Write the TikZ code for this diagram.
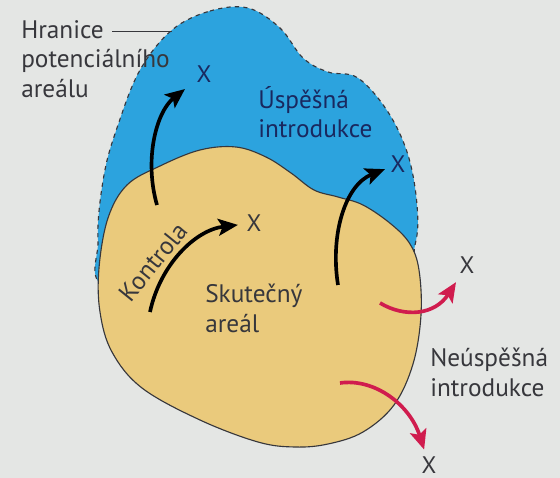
\documentclass[tikz,border=0pt]{standalone}
\usepackage{fontspec}
\setmainfont{PT Sans}
\usetikzlibrary{arrows.meta}

\definecolor{paper}{RGB}{228,230,228}
\definecolor{potblue}{RGB}{44,163,222}
\definecolor{realtan}{RGB}{234,202,124}
\definecolor{failred}{RGB}{208,28,78}
\definecolor{inkgray}{RGB}{55,55,60}
\definecolor{inkblue}{RGB}{25,40,95}

\begin{document}
\begin{tikzpicture}[
  x=0.025cm, y=-0.025cm,
  lbl/.style={font=\fontsize{18}{21}\selectfont, text=inkgray, align=left, inner sep=0pt},
  xmark/.style={font=\fontsize{17}{21}\selectfont, text=inkgray, inner sep=1pt},
  arr/.style={-{Stealth[length=14pt,width=12pt,inset=3pt]}, line width=2.6pt},
  redarr/.style={arr, failred}
]

% Background
\fill[paper] (0,0) rectangle (560,478);
\useasboundingbox (0,0) rectangle (560,478);

% Potential range
\draw[fill=potblue, draw=inkgray, dashed, line width=0.8pt]
  plot[smooth cycle, tension=0.6] coordinates {
    (172,30) (210,11) (248,8) (280,28) (303,58) (328,72) (358,78)
    (388,112) (408,155) (417,205) (415,245) (395,290) (250,300)
    (110,290) (98,240) (104,175) (118,125) (140,70)};

% Actual range
\draw[fill=realtan, draw=inkgray, line width=0.8pt]
  plot[smooth cycle, tension=0.6] coordinates {
    (99,268) (108,218) (127,185) (160,166) (200,150) (236,147)
    (266,157) (291,173) (314,190) (338,197) (363,205) (391,224)
    (410,244) (419,270) (421,315) (413,364) (394,405) (363,432)
    (328,444) (295,447) (258,442) (200,420) (142,388) (112,352)
    (100,312)};

% Labels
\node[lbl, anchor=north west] (hranice) at (21,20) {Hranice\\potenciálního\\areálu};
\node[lbl, text=inkblue, anchor=north west] (uspech) at (258,86) {Úspěšná\\introdukce};
\node[lbl, anchor=north west] (skutecny) at (205,284) {Skutečný\\areál};
\node[lbl, anchor=north west] (neuspech) at (430,348) {Neúspěšná\\introdukce};
\node[lbl, rotate=51] (kontrola) at (153,262) {Kontrola};

\coordinate (leadA) at (112,31);
\coordinate (leadB) at (172,31);
\draw[inkgray, line width=0.7pt] (leadA) -- (leadB);

% Targets
\node[xmark, text=inkblue] (x1) at (204,74) {X};
\node[xmark] (x2) at (254,223) {X};
\node[xmark, text=inkblue] (x3) at (398,164) {X};
\node[xmark] (xr1) at (467,265) {X};
\node[xmark] (xr2) at (429,465) {X};

% Start points
\coordinate (t1) at (157,205);
\coordinate (t2) at (150,312);
\coordinate (t3) at (338,285);
\coordinate (tr1) at (380,303);
\coordinate (tr2) at (340,383);

% Successful spread
\draw[arr, shorten >=9pt] (t1) .. controls (144,160) and (156,112) .. (x1);
\draw[arr, shorten >=5pt] (t2) .. controls (160,265) and (195,230) .. (x2);
\draw[arr, shorten >=3pt] (t3) .. controls (330,235) and (345,185) .. (x3);

% Failed spread
\draw[redarr, shorten >=6pt] (tr1) .. controls (405,318) and (435,315) .. (xr1);
\draw[redarr, shorten >=4pt] (tr2) .. controls (375,378) and (410,405) .. (xr2);

\end{tikzpicture}
\end{document}
